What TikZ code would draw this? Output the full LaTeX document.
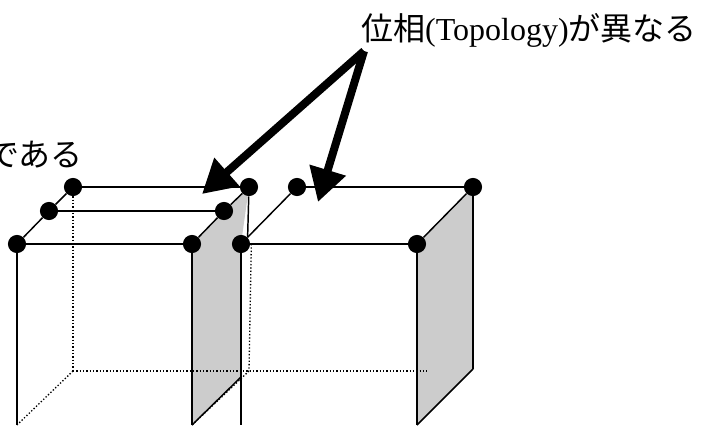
\documentclass[tikz,border=0pt]{standalone}
\usepackage{fontspec}
\usetikzlibrary{arrows.meta,backgrounds}
\setmainfont{Liberation Serif}
\newfontfamily\jpfont{Noto Sans CJK JP}
\tikzset{
  vertex/.style={circle,fill=black,inner sep=0pt,minimum size=13.6pt},
  edge/.style={line width=1.1pt},
  hidden/.style={line width=1pt,dash pattern=on 1pt off 1.5pt},
  panel/.style={fill=black!20},
  pointer/.style={line width=6pt,-{Triangle[length=25pt,width=27pt]}},
  caption/.style={inner sep=0pt,font=\fontsize{24pt}{28pt}\selectfont}
}
\begin{document}
\begin{tikzpicture}[x=0.75pt,y=-0.75pt]
\useasboundingbox (0,0) rectangle (713,425);
\node[vertex] (ftl) at (17,244) {};
\node[vertex] (mtl) at (49,211) {};
\node[vertex] (btl) at (73,187) {};
\node[vertex] (ftr) at (192,244) {};
\node[vertex] (mtr) at (224,211) {};
\node[vertex] (btr) at (249,187) {};
\node[vertex] (gtl) at (241,244) {};
\node[vertex] (gbl) at (297,187) {};
\node[vertex] (gtr) at (417,244) {};
\node[vertex] (gbr) at (473,187) {};
\coordinate (fbl) at (17,425);
\coordinate (fbr) at (192,425);
\coordinate (bbl) at (73,371);
\coordinate (bbr) at (249,371);
\coordinate (gfl) at (241,425);
\coordinate (gfr) at (417,425);
\coordinate (gbm) at (473,369);
\coordinate (gbe) at (427,371);
\coordinate (cut) at (241,377);
\coordinate (apex) at (364,51);
\coordinate (tipa) at (202,194);
\coordinate (tipb) at (318,202);
\begin{scope}[on background layer]
\fill[panel] (ftr.center) -- (btr.center) -- (gtl.center) -- (cut) -- (fbr) -- cycle;
\fill[panel] (gtr.center) -- (gbr.center) -- (gbm) -- (gfr) -- cycle;
\end{scope}
\draw[hidden] (btl) -- (bbl);
\draw[hidden] (bbl) -- (fbl);
\draw[hidden] (bbl) -- (gbe);
\draw[hidden] (gtl.east) ++(1,0) -- (bbr);
\draw[hidden] (bbr) -- (fbr);
\draw[edge] (ftl) -- (mtl);
\draw[edge] (mtl) -- (btl);
\draw[edge] (ftl) -- (ftr);
\draw[edge] (mtl) -- (mtr);
\draw[edge] (btl) -- (btr);
\draw[edge] (ftr) -- (mtr);
\draw[edge] (mtr) -- (btr);
\draw[edge] (gtl) -- (gtr);
\draw[edge] (gtl) -- (gbl);
\draw[edge] (gbl) -- (gbr);
\draw[edge] (gtr) -- (gbr);
\draw[edge] (ftl) -- (fbl);
\draw[edge] (ftr) -- (fbr);
\draw[edge] (gtl) -- (gfl);
\draw[edge] (gtr) -- (gfr);
\draw[edge] (gbr) -- (gbm);
\draw[edge] (gbm) -- (gfr);
\draw[edge] (cut) -- (fbr);
\draw[edge] (btr) -- (gtl.north east);
\node[caption,anchor=east] (topo) at (697,30) {{\jpfont 位相}(Topology){\jpfont が異なる}};
\node[caption,anchor=east] (memo) at (83,155) {{\jpfont である}};
\draw[pointer] (apex) -- (tipa);
\draw[pointer] (apex) -- (tipb);
\end{tikzpicture}
\end{document}
